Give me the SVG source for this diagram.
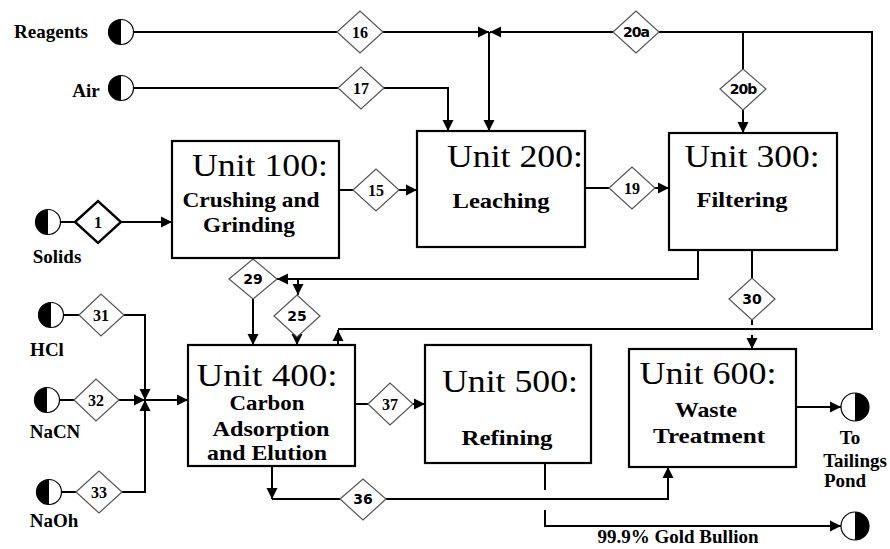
<svg xmlns="http://www.w3.org/2000/svg" width="890" height="549" viewBox="0 0 890 549" font-family="Liberation Serif, Times New Roman, DejaVu Serif, serif">
<defs>
<marker id="ah" markerUnits="userSpaceOnUse" markerWidth="12" markerHeight="12" refX="11" refY="6" orient="auto">
<path d="M0,0.5 L11,6 L0,11.5 z" fill="#000"/>
</marker>
<style>
.box{fill:#fff;stroke:#000;stroke-width:2.2}
.dia{fill:#fff;stroke:#555;stroke-width:1.2}
.dia1{fill:#fff;stroke:#000;stroke-width:2.4}
.ln{fill:none;stroke:#000;stroke-width:2}
.ar{fill:none;stroke:#000;stroke-width:2;marker-end:url(#ah)}
.hc{fill:#fff;stroke:#000;stroke-width:1.2}
text{fill:#000;text-anchor:middle}
.title{font-size:31px}
.sub{font-size:21px;font-weight:bold}
.lab{font-size:19px;font-weight:bold}
.num{font-size:16px;font-weight:bold}
.nums{font-size:14px;font-weight:bold}
</style>
</defs>

<g id="connectors">
<path class="ln" d="M134,32 L337,32"/>
<path class="ar" d="M383,32 L489,32"/>
<path class="ar" d="M338,345 L338,330"/>
<path class="ln" d="M338,329 L872,329 L872,32 L659,32"/>
<path class="ar" d="M613,32 L490,32"/>
<path class="ar" d="M489,32 L489,131"/>
<path class="ln" d="M743,32 L743,69"/>
<path class="ar" d="M743,110 L743,133"/>
<path class="ln" d="M134,88 L338,88"/>
<path class="ar" d="M384,88 L448,88 L448,131"/>
<path class="ln" d="M61,222 L75,222"/>
<path class="ar" d="M122,222 L172,222"/>
<path class="ln" d="M339,190 L353,190"/>
<path class="ar" d="M399,190 L417,190"/>
<path class="ln" d="M585,188 L609,188"/>
<path class="ar" d="M655,188 L669,188"/>
<path class="ar" d="M698,250 L698,279 L277,279"/>
<path class="ar" d="M298,279 L298,295"/>
<path class="ar" d="M253,299 L253,345"/>
<path class="ar" d="M297,337 L297,345"/>
<path class="ln" d="M752,250 L752,278"/>
<path class="ln" d="M752,320 L752,325"/>
<path class="ar" d="M752,335 L752,349"/>
<path class="ln" d="M64,315 L79,315"/>
<path class="ar" d="M124,315 L145,315 L145,400"/>
<path class="ln" d="M60,400 L74,400"/>
<path class="ar" d="M119,400 L145,400"/>
<path class="ln" d="M62,492 L76,492"/>
<path class="ar" d="M122,492 L145,492 L145,400"/>
<path class="ar" d="M145,400 L188,400"/>
<path class="ln" d="M355,404 L368,404"/>
<path class="ar" d="M413,404 L425,404"/>
<path class="ar" d="M272,466 L272,499"/>
<path class="ln" d="M272,499 L340,499"/>
<path class="ar" d="M386,499 L668,499 L668,467"/>
<path class="ln" d="M545,463 L545,490"/>
<path class="ar" d="M545,510 L545,526 L841,526"/>
<path class="ar" d="M796,407 L841,407"/>
</g>

<g id="streams">
<g id="s16"><polygon class="dia" points="337,32 360,11 383,32 360,53"/><text class="num" x="360" y="38">16</text></g>
<g id="s17"><polygon class="dia" points="338,88 361,67 384,88 361,109"/><text class="num" x="361" y="94">17</text></g>
<g id="s20a" font-family="DejaVu Sans, Liberation Sans, sans-serif"><polygon class="dia" points="613,32 636,11 659,32 636,53"/><text class="nums" x="636" y="37" letter-spacing="-1">20a</text></g>
<g id="s20b" font-family="DejaVu Sans, Liberation Sans, sans-serif"><polygon class="dia" points="720,89 743,69 766,89 743,110"/><text class="nums" x="743" y="94" letter-spacing="-1">20b</text></g>
<g id="s1"><polygon class="dia1" points="75,222 98,201 121,222 98,243"/><text class="num" x="98" y="228">1</text></g>
<g id="s15"><polygon class="dia" points="353,190 376,169 399,190 376,211"/><text class="num" x="376" y="196">15</text></g>
<g id="s19"><polygon class="dia" points="609,188 632,167 655,188 632,209"/><text class="num" x="632" y="194">19</text></g>
<g id="s29" font-family="DejaVu Sans, Liberation Sans, sans-serif"><polygon class="dia" points="229,279 253,259 277,279 253,299"/><text class="nums" x="253" y="284">29</text></g>
<g id="s25" font-family="DejaVu Sans, Liberation Sans, sans-serif"><polygon class="dia" points="274,316 297,295 320,316 297,337"/><text class="nums" x="297" y="321">25</text></g>
<g id="s30" font-family="DejaVu Sans, Liberation Sans, sans-serif"><polygon class="dia" points="729,299 752,278 775,299 752,320"/><text class="nums" x="752" y="304">30</text></g>
<g id="s31"><polygon class="dia" points="79,315 101,294 124,315 101,336"/><text class="num" x="101" y="321">31</text></g>
<g id="s32"><polygon class="dia" points="74,400 96,379 119,400 96,421"/><text class="num" x="96" y="406">32</text></g>
<g id="s33"><polygon class="dia" points="76,492 99,471 122,492 99,513"/><text class="num" x="99" y="498">33</text></g>
<g id="s37"><polygon class="dia" points="368,404 390,383 413,404 390,425"/><text class="num" x="390" y="410">37</text></g>
<g id="s36" font-family="DejaVu Sans, Liberation Sans, sans-serif"><polygon class="dia" points="340,499 363,479 386,499 363,520"/><text class="nums" x="363" y="504">36</text></g>
</g>

<g id="terminals">
<g id="reagents"><circle class="hc" cx="121" cy="32" r="12.5"/><path d="M121,19.5 A12.5,12.5 0 0 0 121,44.5 Z"/><text class="lab" x="51" y="38">Reagents</text></g>
<g id="air"><circle class="hc" cx="121" cy="88" r="12.5"/><path d="M121,75.5 A12.5,12.5 0 0 0 121,100.5 Z"/><text class="lab" x="86" y="97">Air</text></g>
<g id="solids"><circle class="hc" cx="48" cy="222" r="12.5"/><path d="M48,209.5 A12.5,12.5 0 0 0 48,234.5 Z"/><text class="lab" x="57" y="263">Solids</text></g>
<g id="hcl"><circle class="hc" cx="51" cy="315" r="12.5"/><path d="M51,302.5 A12.5,12.5 0 0 0 51,327.5 Z"/><text class="lab" x="47" y="356">HCl</text></g>
<g id="nacn"><circle class="hc" cx="47" cy="400" r="12.5"/><path d="M47,387.5 A12.5,12.5 0 0 0 47,412.5 Z"/><text class="lab" x="55" y="438">NaCN</text></g>
<g id="naoh"><circle class="hc" cx="49" cy="492" r="12.5"/><path d="M49,479.5 A12.5,12.5 0 0 0 49,504.5 Z"/><text class="lab" x="54" y="527">NaOh</text></g>
<g id="tailings"><circle class="hc" cx="855" cy="407" r="14"/><path d="M855,393 A14,14 0 0 1 855,421 Z"/><text class="lab" x="850" y="444">To</text><text class="lab" x="855" y="467">Tailings</text><text class="lab" x="845" y="487">Pond</text></g>
<g id="bullion"><circle class="hc" cx="855" cy="526" r="14"/><path d="M855,512 A14,14 0 0 1 855,540 Z"/><text class="lab" x="678" y="543">99.9% Gold Bullion</text></g>
</g>

<g id="unit100"><rect class="box" x="172" y="141" width="167" height="117"/>
<text class="title" x="260" y="176" textLength="136" lengthAdjust="spacingAndGlyphs">Unit 100:</text>
<text class="sub" x="251" y="207" textLength="137" lengthAdjust="spacingAndGlyphs">Crushing and</text>
<text class="sub" x="249" y="232" textLength="92" lengthAdjust="spacingAndGlyphs">Grinding</text></g>

<g id="unit200"><rect class="box" x="417" y="131" width="168" height="116"/>
<text class="title" x="515" y="167" textLength="136" lengthAdjust="spacingAndGlyphs">Unit 200:</text>
<text class="sub" x="501" y="208" textLength="97" lengthAdjust="spacingAndGlyphs">Leaching</text></g>

<g id="unit300"><rect class="box" x="669" y="133" width="168" height="117"/>
<text class="title" x="752" y="167" textLength="135" lengthAdjust="spacingAndGlyphs">Unit 300:</text>
<text class="sub" x="742" y="207" textLength="91" lengthAdjust="spacingAndGlyphs">Filtering</text></g>

<g id="unit400"><rect class="box" x="188" y="345" width="167" height="121"/>
<text class="title" x="267" y="386" textLength="141" lengthAdjust="spacingAndGlyphs">Unit 400:</text>
<text class="sub" x="267" y="410" textLength="75" lengthAdjust="spacingAndGlyphs">Carbon</text>
<text class="sub" x="271" y="436" textLength="117" lengthAdjust="spacingAndGlyphs">Adsorption</text>
<text class="sub" x="267" y="460" textLength="120" lengthAdjust="spacingAndGlyphs">and Elution</text></g>

<g id="unit500"><rect class="box" x="425" y="345" width="166" height="118"/>
<text class="title" x="510" y="392" textLength="136" lengthAdjust="spacingAndGlyphs">Unit 500:</text>
<text class="sub" x="507" y="445" textLength="91" lengthAdjust="spacingAndGlyphs">Refining</text></g>

<g id="unit600"><rect class="box" x="629" y="349" width="167" height="118"/>
<text class="title" x="708" y="384" textLength="137" lengthAdjust="spacingAndGlyphs">Unit 600:</text>
<text class="sub" x="706" y="417" textLength="62" lengthAdjust="spacingAndGlyphs">Waste</text>
<text class="sub" x="709" y="443" textLength="112" lengthAdjust="spacingAndGlyphs">Treatment</text></g>
</svg>
